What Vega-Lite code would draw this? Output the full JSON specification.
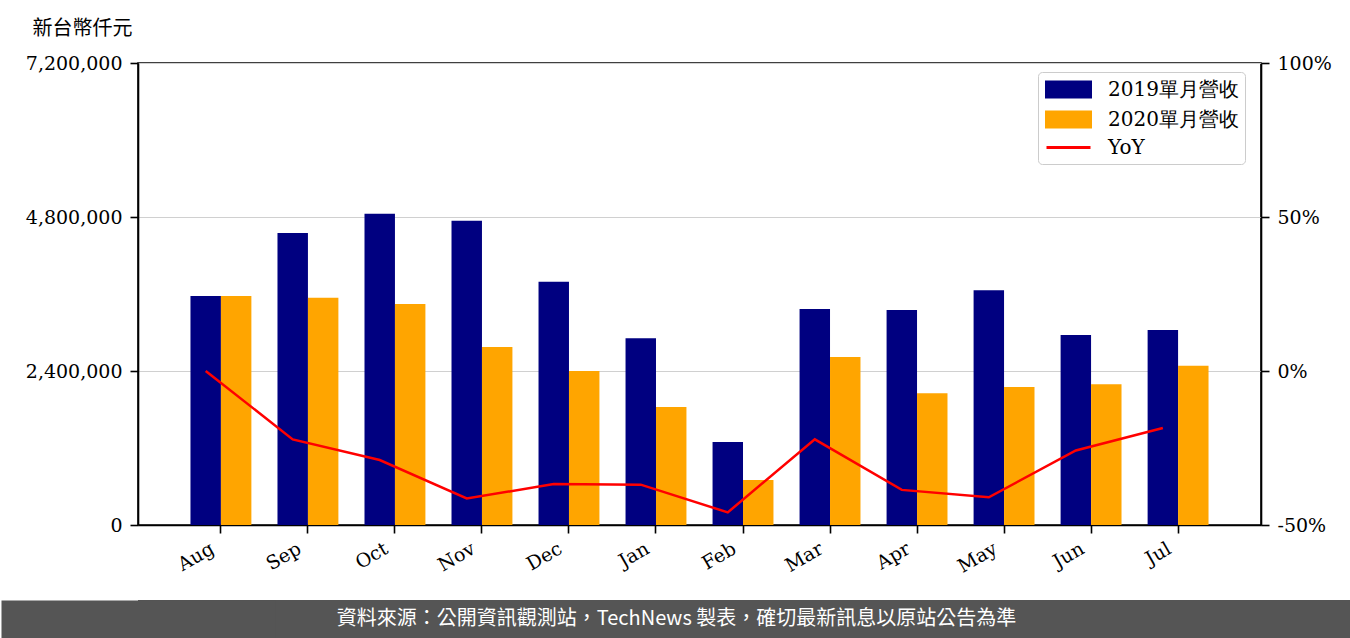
{
  "$schema": "https://vega.github.io/schema/vega-lite/v6.json",
  "background": "white",
  "padding": 0,
  "spacing": 0,
  "datasets": {
    "revenue": [
      {"month": "Aug", "series": "2019單月營收", "value": 3570000},
      {"month": "Sep", "series": "2019單月營收", "value": 4550000},
      {"month": "Oct", "series": "2019單月營收", "value": 4850000},
      {"month": "Nov", "series": "2019單月營收", "value": 4740000},
      {"month": "Dec", "series": "2019單月營收", "value": 3790000},
      {"month": "Jan", "series": "2019單月營收", "value": 2910000},
      {"month": "Feb", "series": "2019單月營收", "value": 1295000},
      {"month": "Mar", "series": "2019單月營收", "value": 3365000},
      {"month": "Apr", "series": "2019單月營收", "value": 3350000},
      {"month": "May", "series": "2019單月營收", "value": 3660000},
      {"month": "Jun", "series": "2019單月營收", "value": 2960000},
      {"month": "Jul", "series": "2019單月營收", "value": 3040000},
      {"month": "Aug", "series": "2020單月營收", "value": 3570000},
      {"month": "Sep", "series": "2020單月營收", "value": 3540000},
      {"month": "Oct", "series": "2020單月營收", "value": 3445000},
      {"month": "Nov", "series": "2020單月營收", "value": 2775000},
      {"month": "Dec", "series": "2020單月營收", "value": 2400000},
      {"month": "Jan", "series": "2020單月營收", "value": 1840000},
      {"month": "Feb", "series": "2020單月營收", "value": 700000},
      {"month": "Mar", "series": "2020單月營收", "value": 2620000},
      {"month": "Apr", "series": "2020單月營收", "value": 2055000},
      {"month": "May", "series": "2020單月營收", "value": 2150000},
      {"month": "Jun", "series": "2020單月營收", "value": 2195000},
      {"month": "Jul", "series": "2020單月營收", "value": 2480000}
    ],
    "yoy": [
      {"month": "Aug", "yoy": 0.0},
      {"month": "Sep", "yoy": -0.222},
      {"month": "Oct", "yoy": -0.289},
      {"month": "Nov", "yoy": -0.414},
      {"month": "Dec", "yoy": -0.367},
      {"month": "Jan", "yoy": -0.369},
      {"month": "Feb", "yoy": -0.459},
      {"month": "Mar", "yoy": -0.222},
      {"month": "Apr", "yoy": -0.386},
      {"month": "May", "yoy": -0.41},
      {"month": "Jun", "yoy": -0.258},
      {"month": "Jul", "yoy": -0.185}
    ],
    "banner": [
      {"text": "資料來源：公開資訊觀測站，TechNews 製表，確切最新訊息以原站公告為準"}
    ]
  },
  "vconcat": [
    {
      "width": 1123,
      "height": 462,
      "view": {"stroke": "black", "strokeWidth": 1.6},
      "layer": [
        {
          "data": {"name": "revenue"},
          "mark": {"type": "bar"},
          "encoding": {
            "x": {
              "field": "month",
              "type": "nominal",
              "sort": ["Aug", "Sep", "Oct", "Nov", "Dec", "Jan", "Feb", "Mar", "Apr", "May", "Jun", "Jul"],
              "scale": {"paddingInner": 0.3, "paddingOuter": 0.603},
              "axis": {
                "title": ".",
                "titleOpacity": 0,
                "titleX": -137,
                "titleY": -524,
                "titleAlign": "left",
                "titleBaseline": "top",
                "titleAngle": 0,
                "labelAngle": -30,
                "labelAlign": "right",
                "labelBaseline": "top",
                "labelPadding": 6,
                "labelOffset": -13
              }
            },
            "xOffset": {
              "field": "series",
              "type": "nominal",
              "scale": {"paddingInner": 0, "paddingOuter": 0}
            },
            "y": {
              "field": "value",
              "type": "quantitative",
              "scale": {"domain": [0, 7200000], "nice": false, "zero": true},
              "axis": {
                "values": [0, 2400000, 4800000, 7200000],
                "format": ",d",
                "grid": true,
                "gridColor": "#d0d0d0",
                "title": "新台幣仟元",
                "titleFont": "Noto Sans CJK TC",
                "titleFontSize": 20,
                "titleFontWeight": "normal",
                "titleColor": "black",
                "titleAngle": 0,
                "titleAlign": "center",
                "titleBaseline": "middle",
                "titleX": -56,
                "titleY": -35
              }
            },
            "color": {
              "field": "series",
              "type": "nominal",
              "scale": {
                "domain": ["2019單月營收", "2020單月營收", "YoY"],
                "range": ["#000080", "#FFA500", "#FF0000"]
              },
              "legend": {
                "title": null,
                "orient": "none",
                "legendX": 900,
                "legendY": 9,
                "padding": 6,
                "strokeColor": "#cccccc",
                "cornerRadius": 4,
                "fillColor": "white",
                "labelFont": "DejaVu Serif",
                "labelFontSize": 20,
                "labelColor": "black",
                "labelOffset": 28,
                "rowPadding": 3,
                "symbolSize": 400,
                "symbolOffset": 13,
                "encode": {
                  "symbols": {
                    "update": {
                      "shape": {"signal": "datum.value === 'YoY' ? 'M-2.2,0H2.2' : 'M-2.2,-0.75H2.2V0.75H-2.2Z'"},
                      "fill": {"signal": "datum.value === 'YoY' ? 'transparent' : scale('color', datum.value)"},
                      "stroke": {"signal": "datum.value === 'YoY' ? '#FF0000' : 'transparent'"},
                      "strokeWidth": {"value": 3},
                      "opacity": {"value": 1}
                    }
                  }
                }
              }
            }
          }
        },
        {
          "data": {"name": "yoy"},
          "mark": {"type": "line", "strokeWidth": 2.5},
          "encoding": {
            "x": {
              "field": "month",
              "type": "nominal",
              "sort": ["Aug", "Sep", "Oct", "Nov", "Dec", "Jan", "Feb", "Mar", "Apr", "May", "Jun", "Jul"],
              "bandPosition": 0.25
            },
            "y": {
              "field": "yoy",
              "type": "quantitative",
              "scale": {"domain": [-0.5, 1], "nice": false, "zero": false},
              "axis": {
                "orient": "right",
                "values": [-0.5, 0, 0.5, 1],
                "labelExpr": "(datum.value < 0 ? '-' : '') + abs(round(datum.value * 100)) + '%'",
                "grid": false,
                "title": ".",
                "titleOpacity": 0,
                "titleAngle": 0,
                "titleX": 0,
                "titleY": 536,
                "titleAlign": "left",
                "titleBaseline": "bottom"
              }
            },
            "color": {"datum": "YoY", "type": "nominal"}
          }
        }
      ],
      "resolve": {"scale": {"y": "independent"}}
    },
    {
      "width": 1213,
      "height": 38,
      "view": {"fill": "#555555", "stroke": null},
      "data": {"name": "banner"},
      "mark": {"type": "text", "color": "white", "font": "Noto Sans CJK TC", "fontSize": 20, "align": "center", "baseline": "middle", "dx": -68},
      "encoding": {
        "text": {"field": "text"},
        "y": {
          "field": "text",
          "type": "nominal",
          "axis": {"labels": false, "ticks": false, "title": null, "domainColor": "#555555", "domainWidth": 274}
        }
      }
    }
  ],
  "config": {
    "axis": {
      "labelFont": "DejaVu Serif",
      "labelFontSize": 19,
      "labelColor": "black",
      "domainColor": "black",
      "domainWidth": 1.6,
      "tickColor": "black",
      "tickWidth": 1.6,
      "tickSize": 8,
      "labelPadding": 8
    }
  }
}
